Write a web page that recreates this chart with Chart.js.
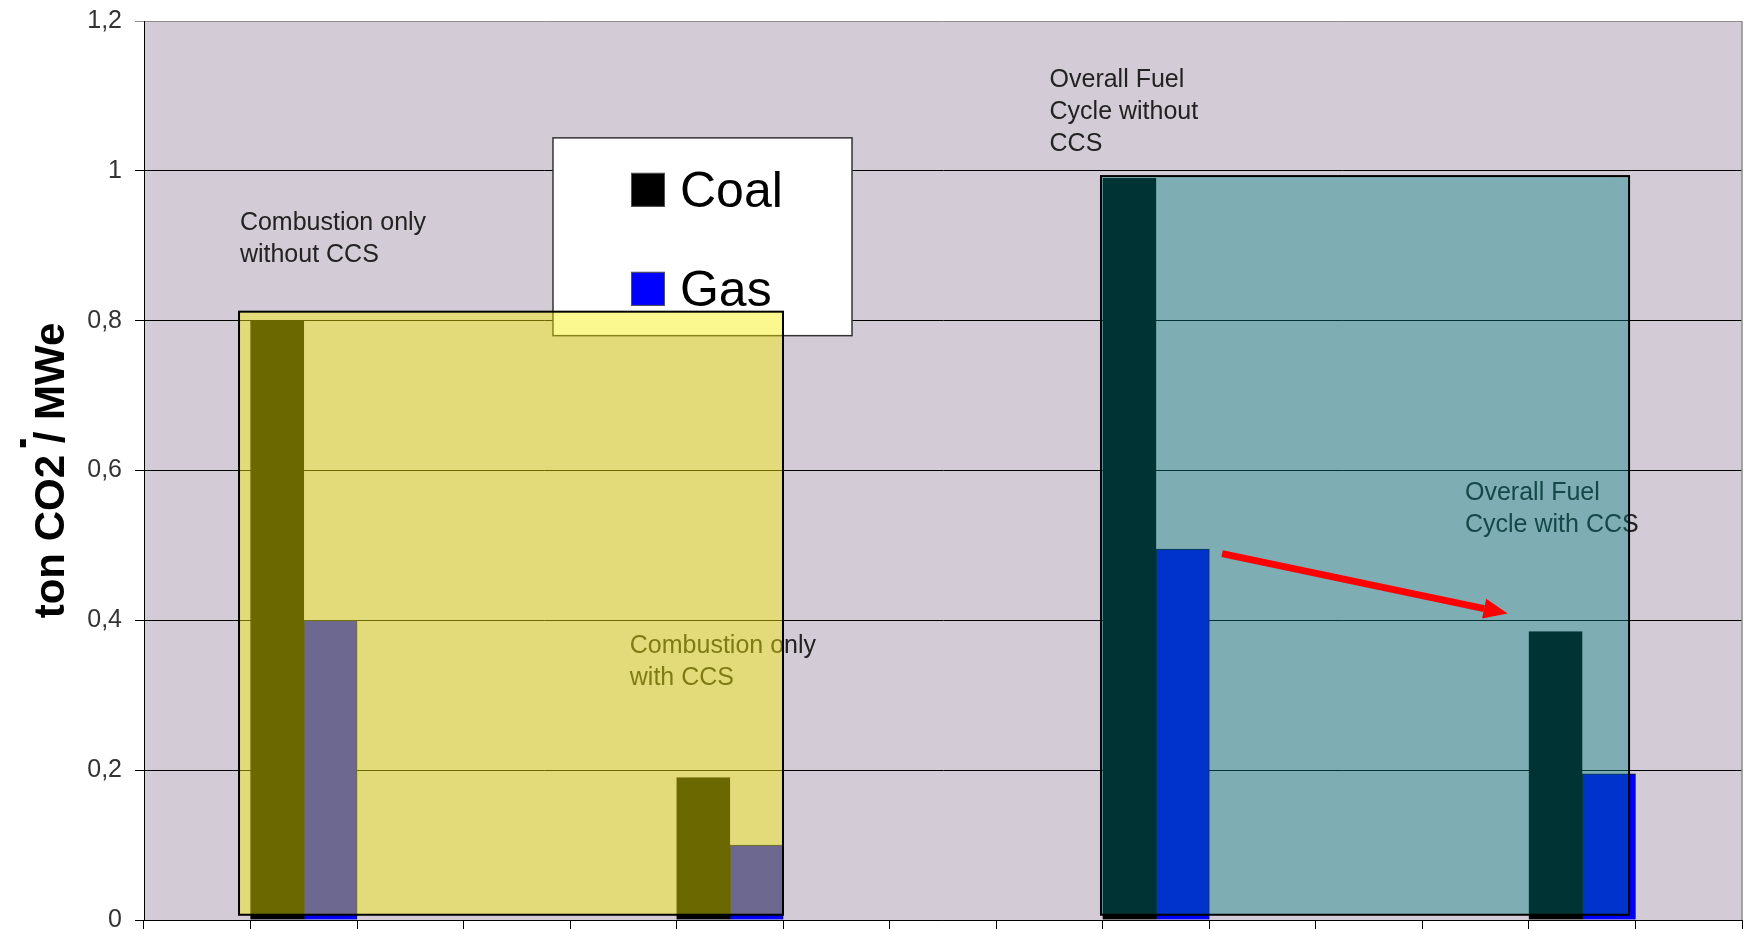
<!DOCTYPE html>
<html>
<head>
<meta charset="utf-8">
<script src="https://cdn.jsdelivr.net/npm/chart.js@4.4.1/dist/chart.umd.min.js"></script>
<style>
  html, body { margin: 0; padding: 0; background: #fff; }
  #wrap { width: 1747px; height: 930px; position: relative; }
</style>
</head>
<body>
<div id="wrap"><canvas id="co2_chart"></canvas></div>
<script>
// 15 slots on the x axis, the original shows no category labels
const categories = ['', '', '', '', '', '', '', '', '', '', '', '', '', '', '']
const coalValues = [null, 0.8, null, null, null, 0.19, null, null, null, 0.99, null, null, null, 0.385, null]
const gasValues = [null, 0.4, null, null, null, 0.1, null, null, null, 0.495, null, null, null, 0.195, null]
const seriesNames = ['Coal', 'Gas']
const yTicks = [0, 0.2, 0.4, 0.6, 0.8, 1, 1.2]
const yTickLabels = ['0', '0,2', '0,4', '0,6', '0,8', '1', '1,2']
const yTitle = 'ton CO2 / MWe'
const noteTexts = [
  ['Combustion only', 'without CCS'],
  ['Combustion only', 'with CCS'],
  ['Overall Fuel', 'Cycle without', 'CCS'],
  ['Overall Fuel', 'Cycle with CCS']
]

// placement of the drawn extras, in category / value units
const noteAnchors = [[0.40, 0.921], [4.06, 0.357], [8.0, 1.112], [11.9, 0.56]]
const yellowBox = { x0: 0.392, x1: 5.498, y0: 0.007, y1: 0.812 }
const tealBox = { x0: 8.483, x1: 13.44, y0: 0.007, y1: 0.993 }
const legendBox = { x0: 3.339, x1: 6.146, y0: 0.78, y1: 1.044 }
const arrowFrom = [9.62, 0.489]
const arrowTo = [12.30, 0.409]

const FONT = '"Liberation Sans", Arial, sans-serif'
Chart.defaults.font.family = FONT

const extras = {
  id: 'extras',
  beforeDraw(chart) {
    const { ctx, chartArea: a } = chart
    ctx.save()
    ctx.fillStyle = '#ffffff'
    ctx.fillRect(0, 0, chart.width, chart.height)
    ctx.fillStyle = '#d3cbd6'
    ctx.fillRect(a.left, a.top, a.right - a.left, a.bottom - a.top)
    ctx.restore()
  },
  afterDatasetsDraw(chart) {
    const { ctx, chartArea: a } = chart
    const xs = chart.scales.x, ys = chart.scales.y
    const px = v => xs.getPixelForValue(v)
    const py = v => ys.getPixelForValue(v)
    ctx.save()

    // legend, sits under the yellow box
    const lx = px(legendBox.x0), rx = px(legendBox.x1)
    const ty = py(legendBox.y1), by = py(legendBox.y0)
    ctx.fillStyle = '#ffffff'
    ctx.fillRect(lx, ty, rx - lx, by - ty)
    ctx.strokeStyle = '#333'
    ctx.lineWidth = 1.5
    ctx.strokeRect(lx, ty, rx - lx, by - ty)
    ctx.font = '50px ' + FONT
    ctx.textBaseline = 'alphabetic'
    chart.data.datasets.forEach((ds, i) => {
      const sy = ty + 35 + i * 99
      ctx.fillStyle = ds.backgroundColor
      ctx.fillRect(lx + 78, sy, 34, 34)
      ctx.strokeStyle = '#555'
      ctx.lineWidth = 1
      ctx.strokeRect(lx + 78.5, sy + 0.5, 33, 33)
      ctx.fillStyle = '#000'
      ctx.fillText(ds.label, lx + 127, sy + 34)
    })

    // text notes
    ctx.font = '25px ' + FONT
    ctx.fillStyle = '#222'
    noteTexts.forEach((lines, i) => {
      const x = px(noteAnchors[i][0]), y = py(noteAnchors[i][1])
      lines.forEach((t, j) => ctx.fillText(t, x, y + j * 32))
    })

    // translucent boxes
    const box = (b, fill) => {
      const x0 = px(b.x0), x1 = px(b.x1), y0 = py(b.y1), y1 = py(b.y0)
      ctx.fillStyle = fill
      ctx.fillRect(x0, y0, x1 - x0, y1 - y0)
      ctx.strokeStyle = '#000'
      ctx.lineWidth = 2
      ctx.strokeRect(x0, y0, x1 - x0, y1 - y0)
    }
    box(yellowBox, 'rgba(248, 240, 0, 0.435)')
    box(tealBox, 'rgba(0, 128, 128, 0.4)')

    // red arrow
    const x0 = px(arrowFrom[0]), y0 = py(arrowFrom[1])
    const x1 = px(arrowTo[0]), y1 = py(arrowTo[1])
    const ang = Math.atan2(y1 - y0, x1 - x0)
    const head = 24, half = 10
    ctx.strokeStyle = '#ff0000'
    ctx.fillStyle = '#ff0000'
    ctx.lineWidth = 7
    ctx.beginPath()
    ctx.moveTo(x0, y0)
    ctx.lineTo(x1 - head * Math.cos(ang), y1 - head * Math.sin(ang))
    ctx.stroke()
    ctx.beginPath()
    ctx.moveTo(x1, y1)
    ctx.lineTo(x1 - head * Math.cos(ang) + half * Math.sin(ang), y1 - head * Math.sin(ang) - half * Math.cos(ang))
    ctx.lineTo(x1 - head * Math.cos(ang) - half * Math.sin(ang), y1 - head * Math.sin(ang) + half * Math.cos(ang))
    ctx.closePath()
    ctx.fill()

    // grey frame on the right side
    ctx.strokeStyle = '#8c8c8c'
    ctx.lineWidth = 1.5
    ctx.beginPath()
    ctx.moveTo(a.right, a.top)
    ctx.lineTo(a.right, a.bottom)
    ctx.stroke()

    // the little square over the axis title
    ctx.font = 'bold 42px ' + FONT
    const w = ctx.measureText(yTitle).width
    const startY = (a.top + a.bottom) / 2 + w / 2
    const dotY = startY - ctx.measureText('ton CO2 ').width
    ctx.fillStyle = '#000'
    ctx.fillRect(20, dotY - 4, 6, 8)
    ctx.restore()
  }
}

new Chart(document.getElementById('co2_chart'), {
  type: 'bar',
  data: {
    labels: categories,
    datasets: [
      {
        label: seriesNames[0],
        data: coalValues,
        backgroundColor: '#000000',
        borderColor: '#000000',
        borderWidth: 1
      },
      {
        label: seriesNames[1],
        data: gasValues,
        backgroundColor: '#0000ff',
        borderColor: '#111111',
        borderWidth: 1
      }
    ]
  },
  options: {
    responsive: true,
    maintainAspectRatio: false,
    animation: false,
    layout: { padding: { top: 21, right: 5, left: 0, bottom: 0 } },
    datasets: { bar: { categoryPercentage: 1, barPercentage: 1 } },
    plugins: {
      legend: { display: false },
      tooltip: { enabled: false }
    },
    scales: {
      x: {
        grid: { offset: true, drawOnChartArea: false, drawTicks: true, tickLength: 9, color: '#000' },
        border: { color: '#000', width: 1 },
        ticks: { display: false },
        afterFit: s => {
          s.height = 10
          s.paddingLeft = 0
          s.paddingRight = 0
        }
      },
      y: {
        min: 0,
        max: 1.2,
        afterBuildTicks: s => { s.ticks = yTicks.map(v => ({ value: v })) },
        grid: {
          color: c => (c.tick && Math.abs(c.tick.value - 1.2) < 1e-6) ? '#8c8c8c' : '#000',
          tickLength: 9,
          lineWidth: 1
        },
        border: { color: '#000', width: 1 },
        ticks: {
          color: '#333',
          font: { size: 25 },
          padding: 13,
          callback: v => yTickLabels[yTicks.findIndex(t => Math.abs(t - v) < 1e-6)]
        },
        title: {
          display: true,
          text: yTitle,
          color: '#000',
          font: { size: 42, weight: 'bold' },
          padding: { top: 27, bottom: 0 }
        },
        afterFit: s => {
          s.width = 144
          s.paddingTop = 0
          s.paddingBottom = 0
        }
      }
    }
  },
  plugins: [extras]
})
</script>
</body>
</html>
